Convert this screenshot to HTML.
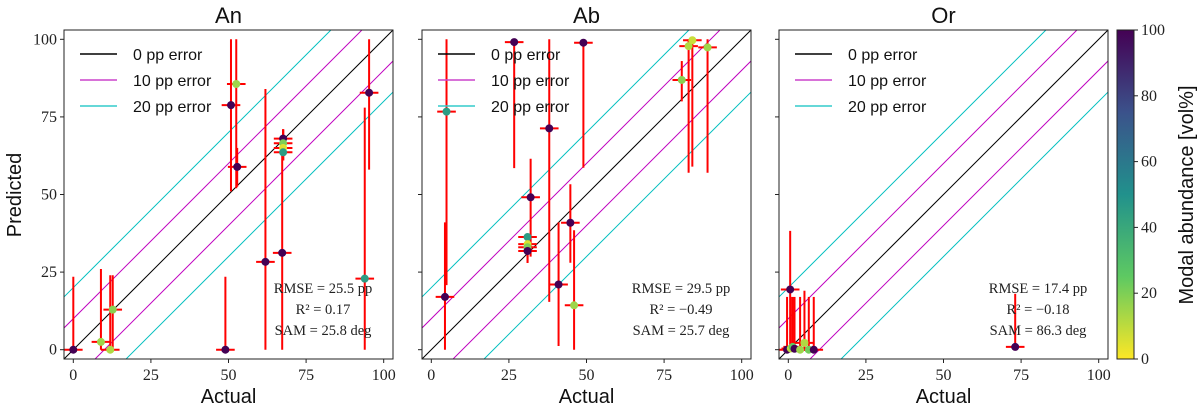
<!DOCTYPE html>
<html><head><meta charset="utf-8"><style>
html,body{margin:0;padding:0;background:#fff;}
svg{display:block;font-family:"Liberation Sans",sans-serif;}
.tick{font-family:"Liberation Serif",serif;font-size:16px;fill:#222;}
.stat{font-family:"Liberation Serif",serif;font-size:14.5px;fill:#222;}
</style></head><body>
<svg id="chart" width="1200" height="408" viewBox="0 0 1200 408" xmlns="http://www.w3.org/2000/svg">
<defs><linearGradient id="vir" x1="0" y1="1" x2="0" y2="0">
<stop offset="0" stop-color="#fde725"/><stop offset="0.25" stop-color="#5ec962"/><stop offset="0.5" stop-color="#21918c"/><stop offset="0.75" stop-color="#3b528b"/><stop offset="1" stop-color="#440154"/></linearGradient></defs>
</svg>
<script>
// [actual, predicted, errLow, errHigh, abundance]
const panelTitles=["An","Ab","Or"];
const anPoints=[[0,0,0,23.5,100],[8.9,2.5,0,26,15],[11.9,0,0,24,12],[12.7,12.9,0,24,18],[49,0,0,23.5,100],[50.8,78.8,51,100,100],[52.5,85.6,52,100,15],[52.8,58.9,52.5,65,100],[61.9,28.3,0,84,100],[67.3,31.2,0,64,100],[67.6,68,61,71,100],[67.6,66.5,61,71,20],[67.6,65,61,71,5],[67.6,63.6,61,71,45],[93.9,22.9,0,78,45],[95.3,82.8,58,100,100]];
const abPoints=[[4.4,17,0,41,100],[4.9,76.7,20.8,100,45],[26.7,99.1,58.5,100,100],[49,98.9,58.6,100,100],[38,71.3,15.4,100,100],[32,49.1,30,61.5,100],[31,36.3,28,37,45],[31,34,28,37,5],[31,33,28,37,20],[31,31.8,28,37,100],[44.8,40.9,28,53.3,100],[41,21,1.2,41,100],[46,14.3,0,38.5,15],[80.7,86.9,80,93,18],[82.9,97.8,57,100,12],[84.1,99.7,59,100,8],[89,97.4,57,100,15]];
const orPoints=[[0.6,19.4,0,38.3,100],[-0.4,0,0,17,100],[0.8,0.4,0,17,10],[1.4,0.9,0,17,25],[2,0.3,0,17,100],[3.8,0,0,17,15],[5.2,2.2,0,19,12],[6.6,0,0,17,22],[8.2,0,0,17,100],[73.1,0.9,0,18,100]];
const statLines=[["RMSE = 25.5 pp","R² = 0.17","SAM = 25.8 deg"],["RMSE = 29.5 pp","R² = −0.49","SAM = 25.7 deg"],["RMSE = 17.4 pp","R² = −0.18","SAM = 86.3 deg"]];
const tickVals=[0,25,50,75,100];
const cbarTicks=[0,20,40,60,80,100];
const legendLabels=["0 pp error","10 pp error","20 pp error"];
const errOffsets=[0,10,-10,20,-20];

const svg=document.getElementById('chart');
const NS='http://www.w3.org/2000/svg';
function mk(tag,attrs,parent,text){const e=document.createElementNS(NS,tag);for(const k in attrs)e.setAttribute(k,attrs[k]);if(text!==undefined)e.textContent=text;(parent||svg).appendChild(e);return e;}
const vir=[[0,[253,231,37]],[0.25,[94,201,98]],[0.5,[33,145,140]],[0.75,[59,82,139]],[1,[68,1,84]]];
function color(v){const t=Math.max(0,Math.min(1,v/100));for(let i=1;i<vir.length;i++){if(t<=vir[i][0]){const a=vir[i-1],b=vir[i];const f=(t-a[0])/(b[0]-a[0]);const c=a[1].map((x,j)=>Math.round(x+(b[1][j]-x)*f));return 'rgb('+c.join(',')+')';}}return 'rgb(68,1,84)';}
const panels=[{left:64,data:anPoints},{left:422,data:abPoints},{left:779,data:orPoints}];
const TOP=30,W=329,H=329,LO=-3,HI=103;
panels.forEach((p,pi)=>{
  const g=mk('g',{},svg);
  
  
  const sx=v=>p.left+(v-LO)/(HI-LO)*W, sy=v=>TOP+H-(v-LO)/(HI-LO)*H;
  const clipId='clip'+pi;
  const cp=mk('clipPath',{id:clipId},g);mk('rect',{x:p.left,y:TOP,width:W,height:H},cp);
  const pg=mk('g',{'clip-path':'url(#'+clipId+')'},g);
  errOffsets.forEach(o=>{
    const c=o===0?'#000':(Math.abs(o)===10?'#bf00bf':'#00bfbf');
    const l=mk('line',{x1:sx(LO),y1:sy(LO+o),x2:sx(HI),y2:sy(HI+o),stroke:c,'stroke-width':1},pg);
    
    
  });
  p.data.forEach(d=>{
    const eb=mk('g',{},pg);
    
    
    mk('line',{x1:sx(d[0]),y1:sy(d[2]),x2:sx(d[0]),y2:sy(d[3]),stroke:'#ff0000','stroke-width':2},eb);
    mk('line',{x1:sx(d[0]-3),y1:sy(d[1]),x2:sx(d[0]+3),y2:sy(d[1]),stroke:'#ff0000','stroke-width':2},eb);
  });
  p.data.forEach(d=>{
    const c=mk('circle',{cx:sx(d[0]),cy:sy(d[1]),r:4,fill:color(d[4])},pg);
    
    
  });
  const fr=mk('rect',{x:p.left,y:TOP,width:W,height:H,fill:'none',stroke:'#222','stroke-width':1},g);
  
  
  tickVals.forEach(t=>{
    mk('line',{x1:sx(t),y1:TOP+H,x2:sx(t),y2:TOP+H+4,stroke:'#222'},g);
    const tx=mk('text',{x:sx(t),y:TOP+H+21,'text-anchor':'middle',class:'tick'},g,String(t));
    
    
    mk('line',{x1:p.left-4,y1:sy(t),x2:p.left,y2:sy(t),stroke:'#222'},g);
    if(pi===0){const ty=mk('text',{x:p.left-7,y:sy(t)+5,'text-anchor':'end',class:'tick'},g,String(t));
      
      }
  });
  const ti=mk('text',{x:p.left+W/2,y:23,'text-anchor':'middle','font-size':22,fill:'#111'},g,panelTitles[pi]);
  
  
  const xl=mk('text',{x:p.left+W/2,y:403,'text-anchor':'middle','font-size':20,fill:'#111'},g,'Actual');
  
  
  const lg=mk('g',{},g);
  
  
  const lc=['#000','#cc44cc','#33cccc'];
  legendLabels.forEach((s,i)=>{
    const y=54+i*26;
    mk('line',{x1:p.left+16,y1:y,x2:p.left+53,y2:y,stroke:lc[i],'stroke-width':1.5},lg);
    const lt=mk('text',{x:p.left+69,y:y+6,'font-size':16,fill:'#111'},lg,s);
    
    
  });
  statLines[pi].forEach((s,i)=>{
    const st=mk('text',{x:p.left+259,y:293+i*21,'text-anchor':'middle',class:'stat'},g,s);
    
    
  });
});
const yl=mk('text',{x:0,y:0,'text-anchor':'middle','font-size':20,fill:'#111',transform:'translate(21,195) rotate(-90)'},svg,'Predicted');


const cb=mk('g',{},svg);


mk('rect',{x:1117,y:30,width:17,height:329,fill:'url(#vir)',stroke:'#222','stroke-width':1},cb);
cbarTicks.forEach(t=>{
  const y=359-t/100*329;
  mk('line',{x1:1134,y1:y,x2:1138,y2:y,stroke:'#222'},cb);
  const ct=mk('text',{x:1141,y:y+5,class:'tick'},cb,String(t));
  
  
});
const cl=mk('text',{x:0,y:0,'text-anchor':'middle','font-size':20,fill:'#111',transform:'translate(1193,195) rotate(-90)'},svg,'Modal abundance [vol%]');


</script>
</body></html>
